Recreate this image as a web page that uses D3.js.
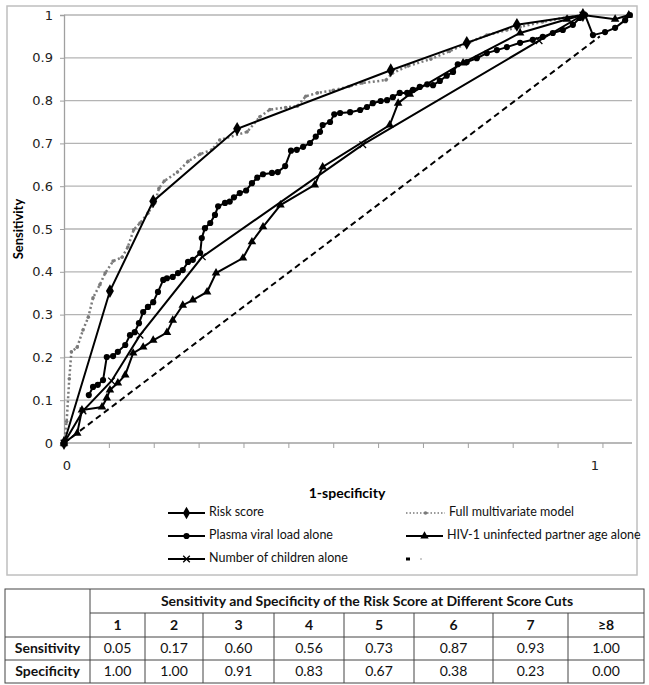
<!DOCTYPE html>
<html>
<head>
<meta charset="utf-8">
<script src="https://cdn.jsdelivr.net/npm/d3@7"></script>
<style>
  body { margin: 0; background: #fff; }
</style>
</head>
<body>
<div id="vis"></div>
<script>
// ROC curves, points as [1-specificity, sensitivity]
const riskScore = [[0,0],[0.087,0.355],[0.169,0.565],[0.328,0.734],[0.619,0.871],[0.763,0.935],[0.858,0.977],[0.983,1.0]];

const fullModel = [[0,0],[0.005,0.05],[0.01,0.15],[0.014,0.213],[0.025,0.224],[0.036,0.264],[0.046,0.294],[0.055,0.339],
    [0.068,0.37],[0.078,0.397],[0.093,0.425],[0.11,0.434],[0.121,0.458],[0.132,0.498],[0.144,0.514],[0.159,0.537],
    [0.172,0.561],[0.18,0.595],[0.19,0.612],[0.215,0.633],[0.235,0.658],[0.258,0.675],[0.28,0.685],[0.295,0.708],
    [0.347,0.727],[0.371,0.762],[0.39,0.779],[0.42,0.784],[0.442,0.787],[0.458,0.81],[0.48,0.818],[0.51,0.824],
    [0.54,0.833],[0.565,0.841],[0.61,0.848],[0.622,0.864],[0.652,0.881],[0.695,0.897],[0.73,0.915],[0.769,0.937],
    [0.801,0.953],[0.839,0.965],[0.864,0.972],[0.907,0.984],[0.953,0.995],[0.99,1.0]];

const viralLoad = [[0.047,0.112],[0.055,0.131],[0.064,0.136],[0.074,0.147],[0.081,0.201],[0.093,0.203],[0.102,0.213],
    [0.116,0.229],[0.125,0.252],[0.134,0.259],[0.142,0.28],[0.15,0.306],[0.159,0.318],[0.169,0.329],[0.178,0.353],
    [0.188,0.381],[0.195,0.385],[0.206,0.388],[0.216,0.397],[0.225,0.404],[0.235,0.423],[0.244,0.428],[0.258,0.444],
    [0.261,0.479],[0.267,0.502],[0.277,0.514],[0.286,0.533],[0.292,0.553],[0.305,0.561],[0.314,0.564],[0.322,0.574],
    [0.333,0.584],[0.345,0.59],[0.356,0.607],[0.366,0.62],[0.377,0.628],[0.394,0.631],[0.405,0.633],[0.419,0.647],
    [0.43,0.683],[0.441,0.685],[0.453,0.692],[0.466,0.701],[0.477,0.716],[0.485,0.727],[0.49,0.743],[0.504,0.75],
    [0.512,0.768],[0.523,0.771],[0.542,0.773],[0.561,0.778],[0.574,0.785],[0.585,0.794],[0.6,0.799],[0.612,0.801],
    [0.623,0.808],[0.636,0.818],[0.65,0.818],[0.661,0.825],[0.674,0.832],[0.688,0.838],[0.699,0.836],[0.712,0.846],
    [0.725,0.858],[0.737,0.867],[0.746,0.885],[0.763,0.89],[0.782,0.899],[0.801,0.911],[0.82,0.918],[0.839,0.925],
    [0.864,0.935],[0.888,0.942],[0.907,0.949],[0.926,0.958],[0.945,0.965],[0.964,0.977],[0.977,0.993],[0.987,1.0],
    [1.002,0.953],[1.025,0.96],[1.044,0.97],[1.063,0.988],[1.072,1.0]];

const partnerAge = [[0,0],[0.025,0.023],[0.034,0.077],[0.072,0.084],[0.081,0.105],[0.087,0.124],[0.102,0.14],
    [0.116,0.159],[0.131,0.21],[0.15,0.224],[0.169,0.24],[0.195,0.258],[0.206,0.287],[0.225,0.322],[0.244,0.334],
    [0.271,0.353],[0.288,0.397],[0.339,0.432],[0.356,0.47],[0.377,0.505],[0.41,0.556],[0.475,0.603],[0.49,0.645],
    [0.617,0.743],[0.633,0.794],[0.655,0.815],[0.756,0.888],[0.864,0.958],[0.953,0.99],[0.983,1.0],[1.044,0.99],[1.07,1.0]];

const children = [[0,0],[0.036,0.075],[0.09,0.145],[0.144,0.252],[0.262,0.435],[0.566,0.697],[0.9,0.94],[0.983,1.0]];

const chance = [[0,0],[1.015,0.95]];

const yTicks = [0,0.1,0.2,0.3,0.4,0.5,0.6,0.7,0.8,0.9,1];
const xTickLabels = [0,1];

// table under the chart
const scoreCuts = ["1","2","3","4","5","6","7","≥8"];
const sensitivityRow = ["0.05","0.17","0.60","0.56","0.73","0.87","0.93","1.00"];
const specificityRow = ["1.00","1.00","0.91","0.83","0.67","0.38","0.23","0.00"];
const tableTitle = "Sensitivity and Specificity of the Risk Score at Different Score Cuts";

const svg = d3.select("#vis")
    .append('svg')
    .attr("width", 649)
    .attr("height", 685);

// chart frame
svg.append('rect')
    .attr('x', 7)
    .attr('y', 6)
    .attr('width', 630)
    .attr('height', 569)
    .attr('fill', 'white')
    .attr('stroke', '#bfbfbf')
    .attr('stroke-width', 1.5);

let x = d3.scaleLinear().domain([0, 1.076]).range([64, 632]);
let y = d3.scaleLinear().domain([0, 1]).range([443, 15]);

// gridlines
svg.append('g')
    .selectAll('line')
    .data(yTicks.slice(1))
    .enter()
    .append('line')
    .attr('x1', x(0))
    .attr('x2', 632)
    .attr('y1', d => y(d))
    .attr('y2', d => y(d))
    .attr('stroke', '#b4b4b4')
    .attr('stroke-width', 1.3);

// y axis
const yAxis = svg.append('g')
    .attr('transform', 'translate(' + x(0) + ',0)')
    .call(d3.axisLeft(y).tickValues(yTicks).tickSize(4).tickFormat(d3.format('~g')));
yAxis.select('.domain').attr('stroke', '#a0a0a0').attr('stroke-width', 1.3);
yAxis.selectAll('.tick line').attr('stroke', '#a0a0a0');
yAxis.selectAll('.tick text')
    .attr('x', -11)
    .style('font-family', 'DejaVu Sans')
    .style('font-size', '13px')
    .attr('fill', '#222');

// x axis: minor ticks without labels, labels only at 0 and 1
const xAxis = svg.append('g')
    .attr('transform', 'translate(0,' + y(0) + ')')
    .call(d3.axisBottom(x).tickValues(d3.range(0, 1.06, 0.085)).tickSize(5).tickFormat(''));
xAxis.select('.domain').attr('stroke', '#a0a0a0').attr('stroke-width', 1.3).attr('d', 'M' + x(0) + ',0H632');
xAxis.selectAll('.tick line').attr('stroke', '#a0a0a0');

svg.append('g')
    .selectAll('text')
    .data(xTickLabels)
    .enter()
    .append('text')
    .attr('x', d => x(d) + 3)
    .attr('y', 466)
    .attr('text-anchor', 'middle')
    .attr('dominant-baseline', 'middle')
    .style('font-family', 'DejaVu Sans')
    .style('font-size', '13px')
    .attr('fill', '#222')
    .text(d => d);

// axis titles
svg.append('text')
    .attr('transform', 'translate(20,' + y(0.5) + ') rotate(-90)')
    .attr('text-anchor', 'middle')
    .attr('dominant-baseline', 'middle')
    .style('font-family', 'Lato')
    .style('font-weight', 'bold')
    .style('font-size', '13px')
    .text('Sensitivity');

svg.append('text')
    .attr('x', 347)
    .attr('y', 494)
    .attr('text-anchor', 'middle')
    .attr('dominant-baseline', 'middle')
    .style('font-family', 'Lato')
    .style('font-weight', 'bold')
    .style('font-size', '14px')
    .text('1-specificity');

let line = d3.line()
    .x(d => x(d[0]))
    .y(d => y(d[1]));

// diagonal
svg.append('path')
    .attr('d', line(chance))
    .attr('fill', 'none')
    .attr('stroke', 'black')
    .attr('stroke-width', 2)
    .attr('stroke-dasharray', '6,4');

// full multivariate model, grey dots
svg.append('path')
    .attr('d', line(fullModel))
    .attr('fill', 'none')
    .attr('stroke', '#7a7a7a')
    .attr('stroke-width', 2.5)
    .attr('stroke-dasharray', '2,2.5');
svg.append('g')
    .selectAll('circle')
    .data(fullModel)
    .enter()
    .append('circle')
    .attr('cx', d => x(d[0]))
    .attr('cy', d => y(d[1]))
    .attr('r', 1.8)
    .attr('fill', '#7a7a7a');

const series = [
    {data: children, symbol: d3.symbolTimes, size: 30, stroke: true},
    {data: partnerAge, symbol: d3.symbolTriangle, size: 32, stroke: false},
    {data: viralLoad, symbol: d3.symbolCircle, size: 30, stroke: false},
    {data: riskScore, symbol: d3.symbolDiamond, size: 55, stroke: false}
];

series.forEach(function (s) {
    svg.append('path')
        .attr('d', line(s.data))
        .attr('fill', 'none')
        .attr('stroke', 'black')
        .attr('stroke-width', 2);

    svg.append('g')
        .selectAll('path')
        .data(s.data)
        .enter()
        .append('path')
        .attr('transform', d => 'translate(' + x(d[0]) + ',' + y(d[1]) + ')')
        .attr('d', d3.symbol().type(s.symbol).size(s.size))
        .attr('fill', s.stroke ? 'none' : 'black')
        .attr('stroke', s.stroke ? 'black' : 'none')
        .attr('stroke-width', 1.3);
});

// legend
const legendItems = [
    {label: "Risk score", col: 0, row: 0, symbol: d3.symbolDiamond, size: 45},
    {label: "Full multivariate model", col: 1, row: 0, dotted: true},
    {label: "Plasma viral load alone", col: 0, row: 1, symbol: d3.symbolCircle, size: 30},
    {label: "HIV-1 uninfected partner age alone", col: 1, row: 1, symbol: d3.symbolTriangle, size: 30},
    {label: "Number of children alone", col: 0, row: 2, symbol: d3.symbolTimes, size: 30, stroke: true},
    {label: "", col: 1, row: 2, dashed: true}
];

const legend = svg.append('g').attr('class', 'legend');
legendItems.forEach(function (item) {
    const lx = item.col === 0 ? 168 : 406;
    const ly = 513 + item.row * 23;
    const g = legend.append('g').attr('transform', 'translate(' + lx + ',' + ly + ')');
    if (item.dashed) {
        g.append('rect').attr('x', 0).attr('y', -1.5).attr('width', 4).attr('height', 3).attr('fill', 'black');
        g.append('circle').attr('cx', 15).attr('cy', 0).attr('r', 1).attr('fill', '#bbb');
        return;
    }
    if (item.dotted) {
        g.append('line').attr('x1', 0).attr('x2', 39).attr('y1', 0).attr('y2', 0)
            .attr('stroke', '#7a7a7a').attr('stroke-width', 1.5).attr('stroke-dasharray', '1.5,2');
        g.append('circle').attr('cx', 19.5).attr('cy', 0).attr('r', 1.8).attr('fill', '#7a7a7a');
    } else {
        g.append('line').attr('x1', 0).attr('x2', 37).attr('y1', 0).attr('y2', 0)
            .attr('stroke', 'black').attr('stroke-width', 2);
        g.append('path')
            .attr('transform', 'translate(18.5,0)')
            .attr('d', d3.symbol().type(item.symbol).size(item.size))
            .attr('fill', item.stroke ? 'none' : 'black')
            .attr('stroke', item.stroke ? 'black' : 'none')
            .attr('stroke-width', 1.3);
    }
    g.append('text')
        .attr('x', item.dotted ? 43 : 41)
        .attr('y', 0)
        .attr('dominant-baseline', 'middle')
        .style('font-family', 'Lato')
        .style('font-size', '12.5px')
        .attr('fill', '#111')
        .text(item.label);
});

// table
const colEdges = [5, 90, 145, 203, 274, 344, 414, 493, 568, 644];
const rowEdges = [589, 613, 637, 660, 683];
const table = svg.append('g').attr('class', 'table');

table.append('rect')
    .attr('x', colEdges[0])
    .attr('y', rowEdges[0])
    .attr('width', colEdges[9] - colEdges[0])
    .attr('height', rowEdges[4] - rowEdges[0])
    .attr('fill', 'none')
    .attr('stroke', '#444')
    .attr('stroke-width', 1);

// horizontal rules (first label cell spans two rows)
[1, 2, 3].forEach(function (r) {
    table.append('line')
        .attr('x1', r === 1 ? colEdges[1] : colEdges[0])
        .attr('x2', colEdges[9])
        .attr('y1', rowEdges[r])
        .attr('y2', rowEdges[r])
        .attr('stroke', '#444');
});
// vertical rules (title row spans value columns)
colEdges.slice(1, 9).forEach(function (cx, i) {
    table.append('line')
        .attr('x1', cx)
        .attr('x2', cx)
        .attr('y1', i === 0 ? rowEdges[0] : rowEdges[1])
        .attr('y2', rowEdges[4])
        .attr('stroke', '#444');
});

function cellText(txt, cx, cy, bold) {
    table.append('text')
        .attr('x', cx)
        .attr('y', cy)
        .attr('text-anchor', 'middle')
        .attr('dominant-baseline', 'middle')
        .style('font-family', 'Lato')
        .style('font-size', '14px')
        .style('font-weight', bold ? 'bold' : 'normal')
        .attr('fill', '#111')
        .text(txt);
}

cellText(tableTitle, (colEdges[1] + colEdges[9]) / 2, (rowEdges[0] + rowEdges[1]) / 2 + 1, true);
scoreCuts.forEach((d, i) => cellText(d, (colEdges[i + 1] + colEdges[i + 2]) / 2, (rowEdges[1] + rowEdges[2]) / 2 + 1, true));
sensitivityRow.forEach((d, i) => cellText(d, (colEdges[i + 1] + colEdges[i + 2]) / 2, (rowEdges[2] + rowEdges[3]) / 2 + 1, false));
specificityRow.forEach((d, i) => cellText(d, (colEdges[i + 1] + colEdges[i + 2]) / 2, (rowEdges[3] + rowEdges[4]) / 2 + 1, false));
cellText("Sensitivity", (colEdges[0] + colEdges[1]) / 2, (rowEdges[2] + rowEdges[3]) / 2 + 1, true);
cellText("Specificity", (colEdges[0] + colEdges[1]) / 2, (rowEdges[3] + rowEdges[4]) / 2 + 1, true);
</script>
</body>
</html>
